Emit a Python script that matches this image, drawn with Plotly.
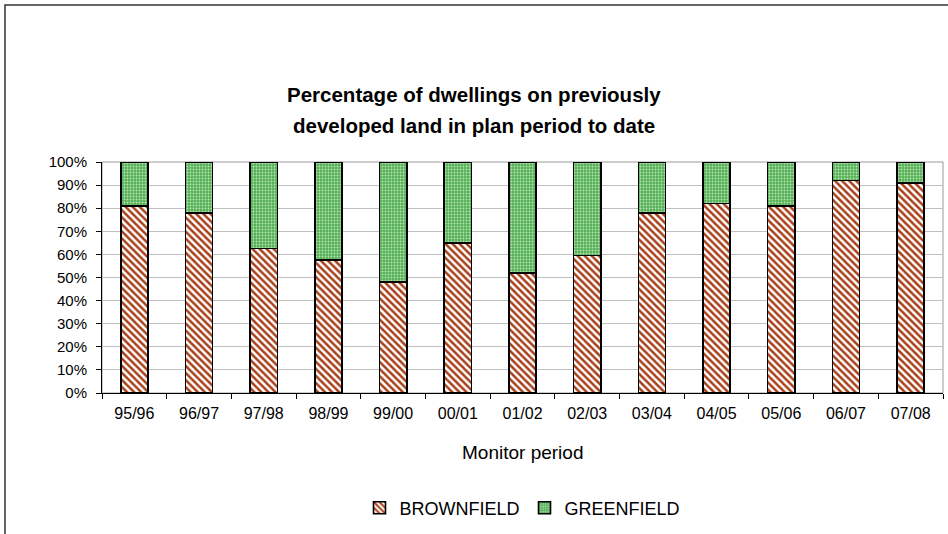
import plotly.graph_objects as go

periods = ["95/96", "96/97", "97/98", "98/99", "99/00", "00/01", "01/02",
           "02/03", "03/04", "04/05", "05/06", "06/07", "07/08"]
brownfield = [81, 78, 62.5, 57.5, 48, 65, 52, 59.5, 78, 82, 81, 92, 91]
greenfield = [100 - b for b in brownfield]

W, H = 948, 534
ML, MR, MT, MB = 102, 5, 162, 141
PW = W - ML - MR
PH = H - MT - MB


def px_x(p):
    return (p - ML) / PW


def px_y(p):
    return (H - MB - p) / PH


FONT = "Liberation Sans, Arial, sans-serif"

fig = go.Figure()
fig.add_trace(go.Bar(
    x=periods, y=brownfield, name="BROWNFIELD",
    marker=dict(
        color="white",
        line=dict(color="black", width=1.6),
        pattern=dict(shape="\\", fgcolor="#A8401A", bgcolor="white",
                     fgopacity=1, size=5, solidity=0.5, fillmode="replace"),
    ),
))
fig.add_trace(go.Bar(
    x=periods, y=greenfield, name="GREENFIELD",
    marker=dict(
        color="#5DB65D",
        line=dict(color="black", width=1.6),
        pattern=dict(shape=".", fgcolor="#B8E4B8", bgcolor="#55B055",
                     fgopacity=1, size=3, solidity=0.3, fillmode="replace"),
    ),
))

shapes = [
    # outer chart frame
    dict(type="rect", xref="paper", yref="paper",
         x0=px_x(5), x1=px_x(W + 10), y0=px_y(H + 10), y1=px_y(5),
         line=dict(color="#333333", width=1.5), fillcolor="rgba(0,0,0,0)",
         layer="below"),
    # plot area border
    dict(type="rect", xref="paper", yref="paper", x0=0, x1=1, y0=0, y1=1,
         line=dict(color="#9A9A9A", width=1), fillcolor="rgba(0,0,0,0)",
         layer="below"),
]

annotations = [
    dict(text="<b>Percentage of dwellings on previously</b>", xref="paper",
         yref="paper", x=px_x(474), y=px_y(94), showarrow=False,
         font=dict(family=FONT, size=20.5, color="black"),
         xanchor="center", yanchor="middle"),
    dict(text="<b>developed land in plan period to date</b>", xref="paper",
         yref="paper", x=px_x(474), y=px_y(126), showarrow=False,
         font=dict(family=FONT, size=20.5, color="black"),
         xanchor="center", yanchor="middle"),
    dict(text="Monitor period", xref="paper", yref="paper",
         x=px_x(522), y=px_y(452), showarrow=False,
         font=dict(family=FONT, size=19, color="black"),
         xanchor="center", yanchor="middle"),
]

fig.update_layout(
    width=W, height=H,
    margin=dict(l=ML, r=MR, t=MT, b=MB, pad=0),
    paper_bgcolor="white", plot_bgcolor="white",
    barmode="stack", bargap=0.58,
    shapes=shapes, annotations=annotations,
    font=dict(family=FONT, size=15, color="black"),
    legend=dict(orientation="h", x=0.5, xanchor="center",
                y=px_y(508), yanchor="middle",
                font=dict(family=FONT, size=18, color="black"),
                itemwidth=30, traceorder="normal"),
    xaxis=dict(
        showline=True, linecolor="black", linewidth=1,
        ticks="outside", tickson="boundaries", ticklen=5,
        tickcolor="black", showgrid=False, ticklabelstandoff=6,
        tickfont=dict(family=FONT, size=16, color="black"),
    ),
    yaxis=dict(
        range=[0, 100], dtick=10, ticksuffix="%",
        showline=True, linecolor="black", linewidth=1,
        ticks="outside", ticklen=5, tickcolor="black",
        showgrid=True, gridcolor="#C0C0C0", gridwidth=1,
        ticklabelstandoff=6,
        tickfont=dict(family=FONT, size=15, color="black"),
        zeroline=False,
    ),
)

fig.write_html("out.html")
